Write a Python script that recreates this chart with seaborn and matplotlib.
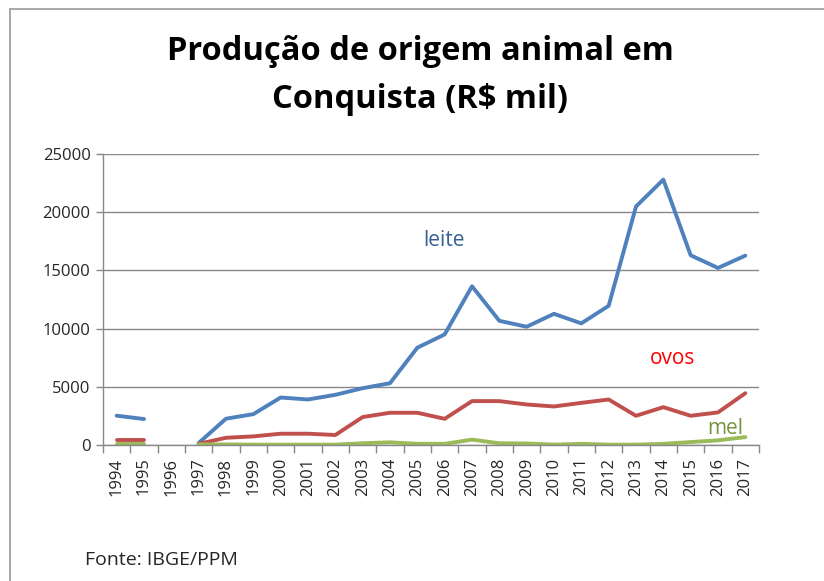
import numpy as np
import pandas as pd
import seaborn as sns
import matplotlib.pyplot as plt
from matplotlib.lines import Line2D

years = list(range(1994, 2018))
leite = [2520, 2230, np.nan, 170, 2260, 2650, 4080, 3910, 4310, 4880, 5310, 8360, 9500,
         13640, 10670, 10160, 11270, 10450, 11960, 20490, 22800, 16300, 15210, 16270]
ovos = [430, 430, np.nan, 100, 620, 740, 970, 970, 860, 2400, 2770, 2770, 2250,
        3770, 3770, 3480, 3310, 3620, 3910, 2510, 3250, 2510, 2800, 4450]
mel = [100, 100, np.nan, 50, 50, 30, 30, 30, 30, 150, 230, 100, 100,
       460, 150, 130, 30, 100, 30, 30, 100, 250, 400, 680]
series_names = ["leite", "ovos", "mel"]
colors = {"leite": "#4F81BD", "ovos": "#C0504D", "mel": "#9BBB59"}

rows = []
for name, vals in zip(series_names, [leite, ovos, mel]):
    seg = 0
    for y, v in zip(years, vals):
        if np.isnan(v):
            seg += 1
            continue
        rows.append({"ano": y, "valor": v, "serie": name, "seg": f"{name}{seg}"})
df = pd.DataFrame(rows)

sns.set_theme(style="white")
plt.rcParams['font.family'] = ['Open Sans', 'DejaVu Sans']

fig = plt.figure(figsize=(8.24, 5.81), dpi=100)
ax = fig.add_axes([103/824, 1-445/581, (759-103)/824, (445-154)/581])

sns.lineplot(data=df, x="ano", y="valor", hue="serie", units="seg", estimator=None,
             palette=colors, linewidth=2.8, legend=False, ax=ax, sort=True)

ax.set_xlim(1993.5, 2017.5)
ax.set_ylim(0, 25000)
ax.set_yticks(range(0, 25001, 5000))
ax.set_yticklabels([str(v) for v in range(0, 25001, 5000)], fontsize=12)
ax.set_xticks(years)
ax.set_xticklabels([str(y) for y in years], rotation=90, fontsize=12)
ax.set_xticks(np.arange(1993.5, 2018, 1), minor=True)
ax.tick_params(axis='x', which='major', length=0, pad=9)
ax.tick_params(axis='x', which='minor', length=6, width=1, color="#888888", bottom=True)
ax.tick_params(axis='y', which='major', length=5, width=1, color="#888888", left=True, pad=4)
ax.yaxis.grid(True, color="#888888", linewidth=1)
ax.set_axisbelow(True)
for s in ["top", "right"]:
    ax.spines[s].set_visible(False)
for s in ["left", "bottom"]:
    ax.spines[s].set_color("#888888")
    ax.spines[s].set_linewidth(1)
ax.set_xlabel("")
ax.set_ylabel("")

ax.text(2005.2, 17610, "leite", color="#376092", fontsize=15, va="center")
ax.text(2013.5, 7470, "ovos", color="#FF0000", fontsize=15, va="center")
ax.text(2015.6, 1460, "mel", color="#77933C", fontsize=15, va="center")

fig.text(0.51, 1-52/581, "Produção de origem animal em", ha="center", va="center",
         fontsize=23.5, fontweight="bold", color="black")
fig.text(0.51, 1-100/581, "Conquista (R$ mil)", ha="center", va="center",
         fontsize=23.5, fontweight="bold", color="black")
fig.text(85/824, 1-560/581, "Fonte: IBGE/PPM", ha="left", va="center", fontsize=14)

fig.add_artist(Line2D([10/824, 10/824], [0, 1-9/581], color="#999999", linewidth=1.2,
                      transform=fig.transFigure))
fig.add_artist(Line2D([10/824, 1], [1-9/581, 1-9/581], color="#999999", linewidth=1.2,
                      transform=fig.transFigure))

fig.savefig("out.png", dpi=100)
